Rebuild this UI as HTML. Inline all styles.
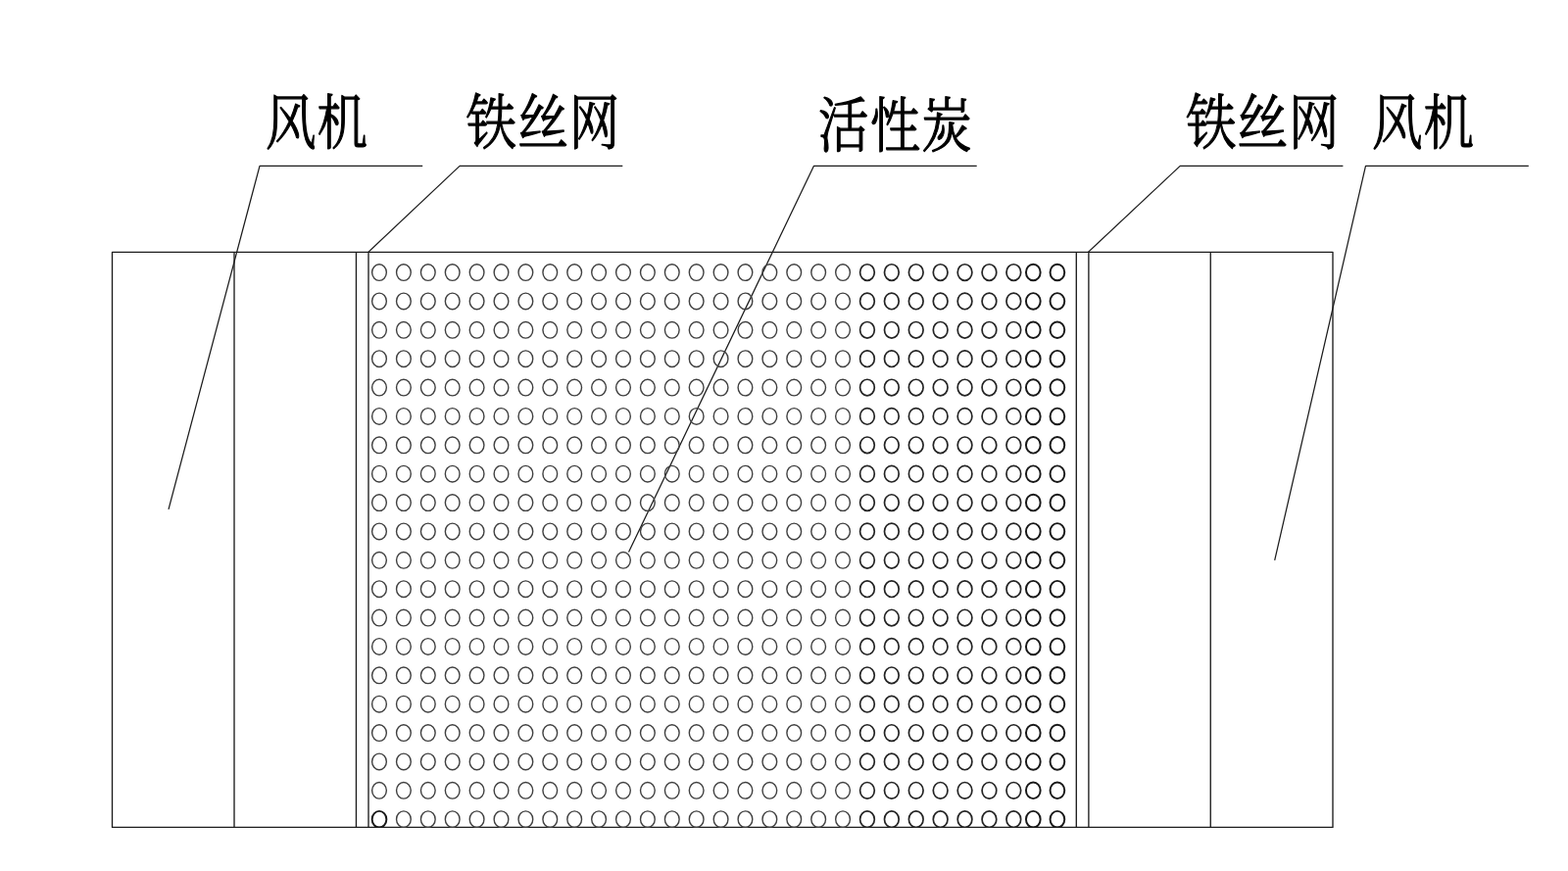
<!DOCTYPE html>
<html lang="zh-CN">
<head>
<meta charset="utf-8">
<title>风机 铁丝网 活性炭</title>
<style>
html,body{margin:0;padding:0;background:#fff;}
body{width:1600px;height:889px;overflow:hidden;}
svg{display:block;}
.ln{stroke:#1c1c1c;stroke-width:1.35;fill:none;stroke-linejoin:round;}
.ld{stroke-width:1.25;}
.c1{stroke:#404040;stroke-width:1.4;fill:none;}
.c2{stroke:#242424;stroke-width:1.7;fill:none;}
.c3{stroke:#181818;stroke-width:1.95;fill:none;}
.lb{font-family:"Liberation Serif","Noto Serif CJK SC",serif;fill:#000;stroke:#000;stroke-linejoin:round;}
</style>
</head>
<body>
<svg width="1600" height="889" viewBox="0 0 1600 889">
<rect x="0" y="0" width="1600" height="889" fill="#fff"/>
<g class="ln">
<rect x="114.5" y="257.35" width="1245.5" height="587.1"/>
<line x1="239.0" y1="257.35" x2="239.0" y2="844.45"/>
<line x1="363.45" y1="257.35" x2="363.45" y2="844.45"/>
<line x1="376.0" y1="257.35" x2="376.0" y2="844.45"/>
<line x1="1098.3" y1="257.35" x2="1098.3" y2="844.45"/>
<line x1="1110.9" y1="257.35" x2="1110.9" y2="844.45"/>
<line x1="1235.25" y1="257.35" x2="1235.25" y2="844.45"/>
<polyline class="ld" points="431.2,169.35 265.0,169.35 172.0,519.8"/>
<polyline class="ld" points="635.3,169.35 469.1,169.35 375.8,257.35"/>
<polyline class="ld" points="996.7,169.35 830.5,169.35 641.5,563.6"/>
<polyline class="ld" points="1370.4,169.35 1204.2,169.35 1110.4,257.35"/>
<polyline class="ld" points="1559.8,169.35 1393.5,169.35 1300.7,571.8"/>
</g>
<clipPath id="bed"><rect x="370" y="250" width="735" height="595.05"/></clipPath>
<g id="carbon" clip-path="url(#bed)">
<g transform="translate(0 278.05)"><g class="c1"><ellipse cx="387.0" rx="7.35" ry="8.3"/><ellipse cx="411.9" rx="7.35" ry="8.3"/><ellipse cx="436.79" rx="7.35" ry="8.3"/><ellipse cx="461.69" rx="7.35" ry="8.3"/><ellipse cx="486.59" rx="7.35" ry="8.3"/><ellipse cx="511.49" rx="7.35" ry="8.3"/><ellipse cx="536.38" rx="7.35" ry="8.3"/><ellipse cx="561.28" rx="7.35" ry="8.3"/><ellipse cx="586.18" rx="7.35" ry="8.3"/><ellipse cx="611.07" rx="7.35" ry="8.3"/><ellipse cx="635.97" rx="7.35" ry="8.3"/><ellipse cx="660.87" rx="7.35" ry="8.3"/><ellipse cx="685.76" rx="7.35" ry="8.3"/><ellipse cx="710.66" rx="7.35" ry="8.3"/><ellipse cx="735.56" rx="7.35" ry="8.3"/><ellipse cx="760.45" rx="7.35" ry="8.3"/><ellipse cx="785.35" rx="7.35" ry="8.3"/><ellipse cx="810.25" rx="7.35" ry="8.3"/><ellipse cx="835.15" rx="7.35" ry="8.3"/><ellipse cx="860.04" rx="7.35" ry="8.3"/></g><g class="c2"><ellipse cx="884.94" rx="7.35" ry="8.3"/><ellipse cx="909.84" rx="7.35" ry="8.3"/><ellipse cx="934.73" rx="7.35" ry="8.3"/><ellipse cx="959.63" rx="7.35" ry="8.3"/><ellipse cx="984.53" rx="7.35" ry="8.3"/><ellipse cx="1009.42" rx="7.35" ry="8.3"/><ellipse cx="1034.32" rx="7.35" ry="8.3"/></g><g class="c3"><ellipse cx="1054.3" rx="7.35" ry="8.3"/><ellipse cx="1078.9" rx="7.35" ry="8.3"/></g></g>
<g transform="translate(0 307.43)"><g class="c1"><ellipse cx="387.0" rx="7.35" ry="8.3"/><ellipse cx="411.9" rx="7.35" ry="8.3"/><ellipse cx="436.79" rx="7.35" ry="8.3"/><ellipse cx="461.69" rx="7.35" ry="8.3"/><ellipse cx="486.59" rx="7.35" ry="8.3"/><ellipse cx="511.49" rx="7.35" ry="8.3"/><ellipse cx="536.38" rx="7.35" ry="8.3"/><ellipse cx="561.28" rx="7.35" ry="8.3"/><ellipse cx="586.18" rx="7.35" ry="8.3"/><ellipse cx="611.07" rx="7.35" ry="8.3"/><ellipse cx="635.97" rx="7.35" ry="8.3"/><ellipse cx="660.87" rx="7.35" ry="8.3"/><ellipse cx="685.76" rx="7.35" ry="8.3"/><ellipse cx="710.66" rx="7.35" ry="8.3"/><ellipse cx="735.56" rx="7.35" ry="8.3"/><ellipse cx="760.45" rx="7.35" ry="8.3"/><ellipse cx="785.35" rx="7.35" ry="8.3"/><ellipse cx="810.25" rx="7.35" ry="8.3"/><ellipse cx="835.15" rx="7.35" ry="8.3"/><ellipse cx="860.04" rx="7.35" ry="8.3"/></g><g class="c2"><ellipse cx="884.94" rx="7.35" ry="8.3"/><ellipse cx="909.84" rx="7.35" ry="8.3"/><ellipse cx="934.73" rx="7.35" ry="8.3"/><ellipse cx="959.63" rx="7.35" ry="8.3"/><ellipse cx="984.53" rx="7.35" ry="8.3"/><ellipse cx="1009.42" rx="7.35" ry="8.3"/><ellipse cx="1034.32" rx="7.35" ry="8.3"/></g><g class="c3"><ellipse cx="1054.3" rx="7.35" ry="8.3"/><ellipse cx="1078.9" rx="7.35" ry="8.3"/></g></g>
<g transform="translate(0 336.8)"><g class="c1"><ellipse cx="387.0" rx="7.35" ry="8.3"/><ellipse cx="411.9" rx="7.35" ry="8.3"/><ellipse cx="436.79" rx="7.35" ry="8.3"/><ellipse cx="461.69" rx="7.35" ry="8.3"/><ellipse cx="486.59" rx="7.35" ry="8.3"/><ellipse cx="511.49" rx="7.35" ry="8.3"/><ellipse cx="536.38" rx="7.35" ry="8.3"/><ellipse cx="561.28" rx="7.35" ry="8.3"/><ellipse cx="586.18" rx="7.35" ry="8.3"/><ellipse cx="611.07" rx="7.35" ry="8.3"/><ellipse cx="635.97" rx="7.35" ry="8.3"/><ellipse cx="660.87" rx="7.35" ry="8.3"/><ellipse cx="685.76" rx="7.35" ry="8.3"/><ellipse cx="710.66" rx="7.35" ry="8.3"/><ellipse cx="735.56" rx="7.35" ry="8.3"/><ellipse cx="760.45" rx="7.35" ry="8.3"/><ellipse cx="785.35" rx="7.35" ry="8.3"/><ellipse cx="810.25" rx="7.35" ry="8.3"/><ellipse cx="835.15" rx="7.35" ry="8.3"/><ellipse cx="860.04" rx="7.35" ry="8.3"/></g><g class="c2"><ellipse cx="884.94" rx="7.35" ry="8.3"/><ellipse cx="909.84" rx="7.35" ry="8.3"/><ellipse cx="934.73" rx="7.35" ry="8.3"/><ellipse cx="959.63" rx="7.35" ry="8.3"/><ellipse cx="984.53" rx="7.35" ry="8.3"/><ellipse cx="1009.42" rx="7.35" ry="8.3"/><ellipse cx="1034.32" rx="7.35" ry="8.3"/></g><g class="c3"><ellipse cx="1054.3" rx="7.35" ry="8.3"/><ellipse cx="1078.9" rx="7.35" ry="8.3"/></g></g>
<g transform="translate(0 366.18)"><g class="c1"><ellipse cx="387.0" rx="7.35" ry="8.3"/><ellipse cx="411.9" rx="7.35" ry="8.3"/><ellipse cx="436.79" rx="7.35" ry="8.3"/><ellipse cx="461.69" rx="7.35" ry="8.3"/><ellipse cx="486.59" rx="7.35" ry="8.3"/><ellipse cx="511.49" rx="7.35" ry="8.3"/><ellipse cx="536.38" rx="7.35" ry="8.3"/><ellipse cx="561.28" rx="7.35" ry="8.3"/><ellipse cx="586.18" rx="7.35" ry="8.3"/><ellipse cx="611.07" rx="7.35" ry="8.3"/><ellipse cx="635.97" rx="7.35" ry="8.3"/><ellipse cx="660.87" rx="7.35" ry="8.3"/><ellipse cx="685.76" rx="7.35" ry="8.3"/><ellipse cx="710.66" rx="7.35" ry="8.3"/><ellipse cx="735.56" rx="7.35" ry="8.3"/><ellipse cx="760.45" rx="7.35" ry="8.3"/><ellipse cx="785.35" rx="7.35" ry="8.3"/><ellipse cx="810.25" rx="7.35" ry="8.3"/><ellipse cx="835.15" rx="7.35" ry="8.3"/><ellipse cx="860.04" rx="7.35" ry="8.3"/></g><g class="c2"><ellipse cx="884.94" rx="7.35" ry="8.3"/><ellipse cx="909.84" rx="7.35" ry="8.3"/><ellipse cx="934.73" rx="7.35" ry="8.3"/><ellipse cx="959.63" rx="7.35" ry="8.3"/><ellipse cx="984.53" rx="7.35" ry="8.3"/><ellipse cx="1009.42" rx="7.35" ry="8.3"/><ellipse cx="1034.32" rx="7.35" ry="8.3"/></g><g class="c3"><ellipse cx="1054.3" rx="7.35" ry="8.3"/><ellipse cx="1078.9" rx="7.35" ry="8.3"/></g></g>
<g transform="translate(0 395.55)"><g class="c1"><ellipse cx="387.0" rx="7.35" ry="8.3"/><ellipse cx="411.9" rx="7.35" ry="8.3"/><ellipse cx="436.79" rx="7.35" ry="8.3"/><ellipse cx="461.69" rx="7.35" ry="8.3"/><ellipse cx="486.59" rx="7.35" ry="8.3"/><ellipse cx="511.49" rx="7.35" ry="8.3"/><ellipse cx="536.38" rx="7.35" ry="8.3"/><ellipse cx="561.28" rx="7.35" ry="8.3"/><ellipse cx="586.18" rx="7.35" ry="8.3"/><ellipse cx="611.07" rx="7.35" ry="8.3"/><ellipse cx="635.97" rx="7.35" ry="8.3"/><ellipse cx="660.87" rx="7.35" ry="8.3"/><ellipse cx="685.76" rx="7.35" ry="8.3"/><ellipse cx="710.66" rx="7.35" ry="8.3"/><ellipse cx="735.56" rx="7.35" ry="8.3"/><ellipse cx="760.45" rx="7.35" ry="8.3"/><ellipse cx="785.35" rx="7.35" ry="8.3"/><ellipse cx="810.25" rx="7.35" ry="8.3"/><ellipse cx="835.15" rx="7.35" ry="8.3"/><ellipse cx="860.04" rx="7.35" ry="8.3"/></g><g class="c2"><ellipse cx="884.94" rx="7.35" ry="8.3"/><ellipse cx="909.84" rx="7.35" ry="8.3"/><ellipse cx="934.73" rx="7.35" ry="8.3"/><ellipse cx="959.63" rx="7.35" ry="8.3"/><ellipse cx="984.53" rx="7.35" ry="8.3"/><ellipse cx="1009.42" rx="7.35" ry="8.3"/><ellipse cx="1034.32" rx="7.35" ry="8.3"/></g><g class="c3"><ellipse cx="1054.3" rx="7.35" ry="8.3"/><ellipse cx="1078.9" rx="7.35" ry="8.3"/></g></g>
<g transform="translate(0 424.93)"><g class="c1"><ellipse cx="387.0" rx="7.35" ry="8.3"/><ellipse cx="411.9" rx="7.35" ry="8.3"/><ellipse cx="436.79" rx="7.35" ry="8.3"/><ellipse cx="461.69" rx="7.35" ry="8.3"/><ellipse cx="486.59" rx="7.35" ry="8.3"/><ellipse cx="511.49" rx="7.35" ry="8.3"/><ellipse cx="536.38" rx="7.35" ry="8.3"/><ellipse cx="561.28" rx="7.35" ry="8.3"/><ellipse cx="586.18" rx="7.35" ry="8.3"/><ellipse cx="611.07" rx="7.35" ry="8.3"/><ellipse cx="635.97" rx="7.35" ry="8.3"/><ellipse cx="660.87" rx="7.35" ry="8.3"/><ellipse cx="685.76" rx="7.35" ry="8.3"/><ellipse cx="710.66" rx="7.35" ry="8.3"/><ellipse cx="735.56" rx="7.35" ry="8.3"/><ellipse cx="760.45" rx="7.35" ry="8.3"/><ellipse cx="785.35" rx="7.35" ry="8.3"/><ellipse cx="810.25" rx="7.35" ry="8.3"/><ellipse cx="835.15" rx="7.35" ry="8.3"/><ellipse cx="860.04" rx="7.35" ry="8.3"/></g><g class="c2"><ellipse cx="884.94" rx="7.35" ry="8.3"/><ellipse cx="909.84" rx="7.35" ry="8.3"/><ellipse cx="934.73" rx="7.35" ry="8.3"/><ellipse cx="959.63" rx="7.35" ry="8.3"/><ellipse cx="984.53" rx="7.35" ry="8.3"/><ellipse cx="1009.42" rx="7.35" ry="8.3"/><ellipse cx="1034.32" rx="7.35" ry="8.3"/></g><g class="c3"><ellipse cx="1054.3" rx="7.35" ry="8.3"/><ellipse cx="1078.9" rx="7.35" ry="8.3"/></g></g>
<g transform="translate(0 454.31)"><g class="c1"><ellipse cx="387.0" rx="7.35" ry="8.3"/><ellipse cx="411.9" rx="7.35" ry="8.3"/><ellipse cx="436.79" rx="7.35" ry="8.3"/><ellipse cx="461.69" rx="7.35" ry="8.3"/><ellipse cx="486.59" rx="7.35" ry="8.3"/><ellipse cx="511.49" rx="7.35" ry="8.3"/><ellipse cx="536.38" rx="7.35" ry="8.3"/><ellipse cx="561.28" rx="7.35" ry="8.3"/><ellipse cx="586.18" rx="7.35" ry="8.3"/><ellipse cx="611.07" rx="7.35" ry="8.3"/><ellipse cx="635.97" rx="7.35" ry="8.3"/><ellipse cx="660.87" rx="7.35" ry="8.3"/><ellipse cx="685.76" rx="7.35" ry="8.3"/><ellipse cx="710.66" rx="7.35" ry="8.3"/><ellipse cx="735.56" rx="7.35" ry="8.3"/><ellipse cx="760.45" rx="7.35" ry="8.3"/><ellipse cx="785.35" rx="7.35" ry="8.3"/><ellipse cx="810.25" rx="7.35" ry="8.3"/><ellipse cx="835.15" rx="7.35" ry="8.3"/><ellipse cx="860.04" rx="7.35" ry="8.3"/></g><g class="c2"><ellipse cx="884.94" rx="7.35" ry="8.3"/><ellipse cx="909.84" rx="7.35" ry="8.3"/><ellipse cx="934.73" rx="7.35" ry="8.3"/><ellipse cx="959.63" rx="7.35" ry="8.3"/><ellipse cx="984.53" rx="7.35" ry="8.3"/><ellipse cx="1009.42" rx="7.35" ry="8.3"/><ellipse cx="1034.32" rx="7.35" ry="8.3"/></g><g class="c3"><ellipse cx="1054.3" rx="7.35" ry="8.3"/><ellipse cx="1078.9" rx="7.35" ry="8.3"/></g></g>
<g transform="translate(0 483.68)"><g class="c1"><ellipse cx="387.0" rx="7.35" ry="8.3"/><ellipse cx="411.9" rx="7.35" ry="8.3"/><ellipse cx="436.79" rx="7.35" ry="8.3"/><ellipse cx="461.69" rx="7.35" ry="8.3"/><ellipse cx="486.59" rx="7.35" ry="8.3"/><ellipse cx="511.49" rx="7.35" ry="8.3"/><ellipse cx="536.38" rx="7.35" ry="8.3"/><ellipse cx="561.28" rx="7.35" ry="8.3"/><ellipse cx="586.18" rx="7.35" ry="8.3"/><ellipse cx="611.07" rx="7.35" ry="8.3"/><ellipse cx="635.97" rx="7.35" ry="8.3"/><ellipse cx="660.87" rx="7.35" ry="8.3"/><ellipse cx="685.76" rx="7.35" ry="8.3"/><ellipse cx="710.66" rx="7.35" ry="8.3"/><ellipse cx="735.56" rx="7.35" ry="8.3"/><ellipse cx="760.45" rx="7.35" ry="8.3"/><ellipse cx="785.35" rx="7.35" ry="8.3"/><ellipse cx="810.25" rx="7.35" ry="8.3"/><ellipse cx="835.15" rx="7.35" ry="8.3"/><ellipse cx="860.04" rx="7.35" ry="8.3"/></g><g class="c2"><ellipse cx="884.94" rx="7.35" ry="8.3"/><ellipse cx="909.84" rx="7.35" ry="8.3"/><ellipse cx="934.73" rx="7.35" ry="8.3"/><ellipse cx="959.63" rx="7.35" ry="8.3"/><ellipse cx="984.53" rx="7.35" ry="8.3"/><ellipse cx="1009.42" rx="7.35" ry="8.3"/><ellipse cx="1034.32" rx="7.35" ry="8.3"/></g><g class="c3"><ellipse cx="1054.3" rx="7.35" ry="8.3"/><ellipse cx="1078.9" rx="7.35" ry="8.3"/></g></g>
<g transform="translate(0 513.06)"><g class="c1"><ellipse cx="387.0" rx="7.35" ry="8.3"/><ellipse cx="411.9" rx="7.35" ry="8.3"/><ellipse cx="436.79" rx="7.35" ry="8.3"/><ellipse cx="461.69" rx="7.35" ry="8.3"/><ellipse cx="486.59" rx="7.35" ry="8.3"/><ellipse cx="511.49" rx="7.35" ry="8.3"/><ellipse cx="536.38" rx="7.35" ry="8.3"/><ellipse cx="561.28" rx="7.35" ry="8.3"/><ellipse cx="586.18" rx="7.35" ry="8.3"/><ellipse cx="611.07" rx="7.35" ry="8.3"/><ellipse cx="635.97" rx="7.35" ry="8.3"/><ellipse cx="660.87" rx="7.35" ry="8.3"/><ellipse cx="685.76" rx="7.35" ry="8.3"/><ellipse cx="710.66" rx="7.35" ry="8.3"/><ellipse cx="735.56" rx="7.35" ry="8.3"/><ellipse cx="760.45" rx="7.35" ry="8.3"/><ellipse cx="785.35" rx="7.35" ry="8.3"/><ellipse cx="810.25" rx="7.35" ry="8.3"/><ellipse cx="835.15" rx="7.35" ry="8.3"/><ellipse cx="860.04" rx="7.35" ry="8.3"/></g><g class="c2"><ellipse cx="884.94" rx="7.35" ry="8.3"/><ellipse cx="909.84" rx="7.35" ry="8.3"/><ellipse cx="934.73" rx="7.35" ry="8.3"/><ellipse cx="959.63" rx="7.35" ry="8.3"/><ellipse cx="984.53" rx="7.35" ry="8.3"/><ellipse cx="1009.42" rx="7.35" ry="8.3"/><ellipse cx="1034.32" rx="7.35" ry="8.3"/></g><g class="c3"><ellipse cx="1054.3" rx="7.35" ry="8.3"/><ellipse cx="1078.9" rx="7.35" ry="8.3"/></g></g>
<g transform="translate(0 542.43)"><g class="c1"><ellipse cx="387.0" rx="7.35" ry="8.3"/><ellipse cx="411.9" rx="7.35" ry="8.3"/><ellipse cx="436.79" rx="7.35" ry="8.3"/><ellipse cx="461.69" rx="7.35" ry="8.3"/><ellipse cx="486.59" rx="7.35" ry="8.3"/><ellipse cx="511.49" rx="7.35" ry="8.3"/><ellipse cx="536.38" rx="7.35" ry="8.3"/><ellipse cx="561.28" rx="7.35" ry="8.3"/><ellipse cx="586.18" rx="7.35" ry="8.3"/><ellipse cx="611.07" rx="7.35" ry="8.3"/><ellipse cx="635.97" rx="7.35" ry="8.3"/><ellipse cx="660.87" rx="7.35" ry="8.3"/><ellipse cx="685.76" rx="7.35" ry="8.3"/><ellipse cx="710.66" rx="7.35" ry="8.3"/><ellipse cx="735.56" rx="7.35" ry="8.3"/><ellipse cx="760.45" rx="7.35" ry="8.3"/><ellipse cx="785.35" rx="7.35" ry="8.3"/><ellipse cx="810.25" rx="7.35" ry="8.3"/><ellipse cx="835.15" rx="7.35" ry="8.3"/><ellipse cx="860.04" rx="7.35" ry="8.3"/></g><g class="c2"><ellipse cx="884.94" rx="7.35" ry="8.3"/><ellipse cx="909.84" rx="7.35" ry="8.3"/><ellipse cx="934.73" rx="7.35" ry="8.3"/><ellipse cx="959.63" rx="7.35" ry="8.3"/><ellipse cx="984.53" rx="7.35" ry="8.3"/><ellipse cx="1009.42" rx="7.35" ry="8.3"/><ellipse cx="1034.32" rx="7.35" ry="8.3"/></g><g class="c3"><ellipse cx="1054.3" rx="7.35" ry="8.3"/><ellipse cx="1078.9" rx="7.35" ry="8.3"/></g></g>
<g transform="translate(0 571.81)"><g class="c1"><ellipse cx="387.0" rx="7.35" ry="8.3"/><ellipse cx="411.9" rx="7.35" ry="8.3"/><ellipse cx="436.79" rx="7.35" ry="8.3"/><ellipse cx="461.69" rx="7.35" ry="8.3"/><ellipse cx="486.59" rx="7.35" ry="8.3"/><ellipse cx="511.49" rx="7.35" ry="8.3"/><ellipse cx="536.38" rx="7.35" ry="8.3"/><ellipse cx="561.28" rx="7.35" ry="8.3"/><ellipse cx="586.18" rx="7.35" ry="8.3"/><ellipse cx="611.07" rx="7.35" ry="8.3"/><ellipse cx="635.97" rx="7.35" ry="8.3"/><ellipse cx="660.87" rx="7.35" ry="8.3"/><ellipse cx="685.76" rx="7.35" ry="8.3"/><ellipse cx="710.66" rx="7.35" ry="8.3"/><ellipse cx="735.56" rx="7.35" ry="8.3"/><ellipse cx="760.45" rx="7.35" ry="8.3"/><ellipse cx="785.35" rx="7.35" ry="8.3"/><ellipse cx="810.25" rx="7.35" ry="8.3"/><ellipse cx="835.15" rx="7.35" ry="8.3"/><ellipse cx="860.04" rx="7.35" ry="8.3"/></g><g class="c2"><ellipse cx="884.94" rx="7.35" ry="8.3"/><ellipse cx="909.84" rx="7.35" ry="8.3"/><ellipse cx="934.73" rx="7.35" ry="8.3"/><ellipse cx="959.63" rx="7.35" ry="8.3"/><ellipse cx="984.53" rx="7.35" ry="8.3"/><ellipse cx="1009.42" rx="7.35" ry="8.3"/><ellipse cx="1034.32" rx="7.35" ry="8.3"/></g><g class="c3"><ellipse cx="1054.3" rx="7.35" ry="8.3"/><ellipse cx="1078.9" rx="7.35" ry="8.3"/></g></g>
<g transform="translate(0 601.19)"><g class="c1"><ellipse cx="387.0" rx="7.35" ry="8.3"/><ellipse cx="411.9" rx="7.35" ry="8.3"/><ellipse cx="436.79" rx="7.35" ry="8.3"/><ellipse cx="461.69" rx="7.35" ry="8.3"/><ellipse cx="486.59" rx="7.35" ry="8.3"/><ellipse cx="511.49" rx="7.35" ry="8.3"/><ellipse cx="536.38" rx="7.35" ry="8.3"/><ellipse cx="561.28" rx="7.35" ry="8.3"/><ellipse cx="586.18" rx="7.35" ry="8.3"/><ellipse cx="611.07" rx="7.35" ry="8.3"/><ellipse cx="635.97" rx="7.35" ry="8.3"/><ellipse cx="660.87" rx="7.35" ry="8.3"/><ellipse cx="685.76" rx="7.35" ry="8.3"/><ellipse cx="710.66" rx="7.35" ry="8.3"/><ellipse cx="735.56" rx="7.35" ry="8.3"/><ellipse cx="760.45" rx="7.35" ry="8.3"/><ellipse cx="785.35" rx="7.35" ry="8.3"/><ellipse cx="810.25" rx="7.35" ry="8.3"/><ellipse cx="835.15" rx="7.35" ry="8.3"/><ellipse cx="860.04" rx="7.35" ry="8.3"/></g><g class="c2"><ellipse cx="884.94" rx="7.35" ry="8.3"/><ellipse cx="909.84" rx="7.35" ry="8.3"/><ellipse cx="934.73" rx="7.35" ry="8.3"/><ellipse cx="959.63" rx="7.35" ry="8.3"/><ellipse cx="984.53" rx="7.35" ry="8.3"/><ellipse cx="1009.42" rx="7.35" ry="8.3"/><ellipse cx="1034.32" rx="7.35" ry="8.3"/></g><g class="c3"><ellipse cx="1054.3" rx="7.35" ry="8.3"/><ellipse cx="1078.9" rx="7.35" ry="8.3"/></g></g>
<g transform="translate(0 630.56)"><g class="c1"><ellipse cx="387.0" rx="7.35" ry="8.3"/><ellipse cx="411.9" rx="7.35" ry="8.3"/><ellipse cx="436.79" rx="7.35" ry="8.3"/><ellipse cx="461.69" rx="7.35" ry="8.3"/><ellipse cx="486.59" rx="7.35" ry="8.3"/><ellipse cx="511.49" rx="7.35" ry="8.3"/><ellipse cx="536.38" rx="7.35" ry="8.3"/><ellipse cx="561.28" rx="7.35" ry="8.3"/><ellipse cx="586.18" rx="7.35" ry="8.3"/><ellipse cx="611.07" rx="7.35" ry="8.3"/><ellipse cx="635.97" rx="7.35" ry="8.3"/><ellipse cx="660.87" rx="7.35" ry="8.3"/><ellipse cx="685.76" rx="7.35" ry="8.3"/><ellipse cx="710.66" rx="7.35" ry="8.3"/><ellipse cx="735.56" rx="7.35" ry="8.3"/><ellipse cx="760.45" rx="7.35" ry="8.3"/><ellipse cx="785.35" rx="7.35" ry="8.3"/><ellipse cx="810.25" rx="7.35" ry="8.3"/><ellipse cx="835.15" rx="7.35" ry="8.3"/><ellipse cx="860.04" rx="7.35" ry="8.3"/></g><g class="c2"><ellipse cx="884.94" rx="7.35" ry="8.3"/><ellipse cx="909.84" rx="7.35" ry="8.3"/><ellipse cx="934.73" rx="7.35" ry="8.3"/><ellipse cx="959.63" rx="7.35" ry="8.3"/><ellipse cx="984.53" rx="7.35" ry="8.3"/><ellipse cx="1009.42" rx="7.35" ry="8.3"/><ellipse cx="1034.32" rx="7.35" ry="8.3"/></g><g class="c3"><ellipse cx="1054.3" rx="7.35" ry="8.3"/><ellipse cx="1078.9" rx="7.35" ry="8.3"/></g></g>
<g transform="translate(0 659.94)"><g class="c1"><ellipse cx="387.0" rx="7.35" ry="8.3"/><ellipse cx="411.9" rx="7.35" ry="8.3"/><ellipse cx="436.79" rx="7.35" ry="8.3"/><ellipse cx="461.69" rx="7.35" ry="8.3"/><ellipse cx="486.59" rx="7.35" ry="8.3"/><ellipse cx="511.49" rx="7.35" ry="8.3"/><ellipse cx="536.38" rx="7.35" ry="8.3"/><ellipse cx="561.28" rx="7.35" ry="8.3"/><ellipse cx="586.18" rx="7.35" ry="8.3"/><ellipse cx="611.07" rx="7.35" ry="8.3"/><ellipse cx="635.97" rx="7.35" ry="8.3"/><ellipse cx="660.87" rx="7.35" ry="8.3"/><ellipse cx="685.76" rx="7.35" ry="8.3"/><ellipse cx="710.66" rx="7.35" ry="8.3"/><ellipse cx="735.56" rx="7.35" ry="8.3"/><ellipse cx="760.45" rx="7.35" ry="8.3"/><ellipse cx="785.35" rx="7.35" ry="8.3"/><ellipse cx="810.25" rx="7.35" ry="8.3"/><ellipse cx="835.15" rx="7.35" ry="8.3"/><ellipse cx="860.04" rx="7.35" ry="8.3"/></g><g class="c2"><ellipse cx="884.94" rx="7.35" ry="8.3"/><ellipse cx="909.84" rx="7.35" ry="8.3"/><ellipse cx="934.73" rx="7.35" ry="8.3"/><ellipse cx="959.63" rx="7.35" ry="8.3"/><ellipse cx="984.53" rx="7.35" ry="8.3"/><ellipse cx="1009.42" rx="7.35" ry="8.3"/><ellipse cx="1034.32" rx="7.35" ry="8.3"/></g><g class="c3"><ellipse cx="1054.3" rx="7.35" ry="8.3"/><ellipse cx="1078.9" rx="7.35" ry="8.3"/></g></g>
<g transform="translate(0 689.31)"><g class="c1"><ellipse cx="387.0" rx="7.35" ry="8.3"/><ellipse cx="411.9" rx="7.35" ry="8.3"/><ellipse cx="436.79" rx="7.35" ry="8.3"/><ellipse cx="461.69" rx="7.35" ry="8.3"/><ellipse cx="486.59" rx="7.35" ry="8.3"/><ellipse cx="511.49" rx="7.35" ry="8.3"/><ellipse cx="536.38" rx="7.35" ry="8.3"/><ellipse cx="561.28" rx="7.35" ry="8.3"/><ellipse cx="586.18" rx="7.35" ry="8.3"/><ellipse cx="611.07" rx="7.35" ry="8.3"/><ellipse cx="635.97" rx="7.35" ry="8.3"/><ellipse cx="660.87" rx="7.35" ry="8.3"/><ellipse cx="685.76" rx="7.35" ry="8.3"/><ellipse cx="710.66" rx="7.35" ry="8.3"/><ellipse cx="735.56" rx="7.35" ry="8.3"/><ellipse cx="760.45" rx="7.35" ry="8.3"/><ellipse cx="785.35" rx="7.35" ry="8.3"/><ellipse cx="810.25" rx="7.35" ry="8.3"/><ellipse cx="835.15" rx="7.35" ry="8.3"/><ellipse cx="860.04" rx="7.35" ry="8.3"/></g><g class="c2"><ellipse cx="884.94" rx="7.35" ry="8.3"/><ellipse cx="909.84" rx="7.35" ry="8.3"/><ellipse cx="934.73" rx="7.35" ry="8.3"/><ellipse cx="959.63" rx="7.35" ry="8.3"/><ellipse cx="984.53" rx="7.35" ry="8.3"/><ellipse cx="1009.42" rx="7.35" ry="8.3"/><ellipse cx="1034.32" rx="7.35" ry="8.3"/></g><g class="c3"><ellipse cx="1054.3" rx="7.35" ry="8.3"/><ellipse cx="1078.9" rx="7.35" ry="8.3"/></g></g>
<g transform="translate(0 718.69)"><g class="c1"><ellipse cx="387.0" rx="7.35" ry="8.3"/><ellipse cx="411.9" rx="7.35" ry="8.3"/><ellipse cx="436.79" rx="7.35" ry="8.3"/><ellipse cx="461.69" rx="7.35" ry="8.3"/><ellipse cx="486.59" rx="7.35" ry="8.3"/><ellipse cx="511.49" rx="7.35" ry="8.3"/><ellipse cx="536.38" rx="7.35" ry="8.3"/><ellipse cx="561.28" rx="7.35" ry="8.3"/><ellipse cx="586.18" rx="7.35" ry="8.3"/><ellipse cx="611.07" rx="7.35" ry="8.3"/><ellipse cx="635.97" rx="7.35" ry="8.3"/><ellipse cx="660.87" rx="7.35" ry="8.3"/><ellipse cx="685.76" rx="7.35" ry="8.3"/><ellipse cx="710.66" rx="7.35" ry="8.3"/><ellipse cx="735.56" rx="7.35" ry="8.3"/><ellipse cx="760.45" rx="7.35" ry="8.3"/><ellipse cx="785.35" rx="7.35" ry="8.3"/><ellipse cx="810.25" rx="7.35" ry="8.3"/><ellipse cx="835.15" rx="7.35" ry="8.3"/><ellipse cx="860.04" rx="7.35" ry="8.3"/></g><g class="c2"><ellipse cx="884.94" rx="7.35" ry="8.3"/><ellipse cx="909.84" rx="7.35" ry="8.3"/><ellipse cx="934.73" rx="7.35" ry="8.3"/><ellipse cx="959.63" rx="7.35" ry="8.3"/><ellipse cx="984.53" rx="7.35" ry="8.3"/><ellipse cx="1009.42" rx="7.35" ry="8.3"/><ellipse cx="1034.32" rx="7.35" ry="8.3"/></g><g class="c3"><ellipse cx="1054.3" rx="7.35" ry="8.3"/><ellipse cx="1078.9" rx="7.35" ry="8.3"/></g></g>
<g transform="translate(0 748.07)"><g class="c1"><ellipse cx="387.0" rx="7.35" ry="8.3"/><ellipse cx="411.9" rx="7.35" ry="8.3"/><ellipse cx="436.79" rx="7.35" ry="8.3"/><ellipse cx="461.69" rx="7.35" ry="8.3"/><ellipse cx="486.59" rx="7.35" ry="8.3"/><ellipse cx="511.49" rx="7.35" ry="8.3"/><ellipse cx="536.38" rx="7.35" ry="8.3"/><ellipse cx="561.28" rx="7.35" ry="8.3"/><ellipse cx="586.18" rx="7.35" ry="8.3"/><ellipse cx="611.07" rx="7.35" ry="8.3"/><ellipse cx="635.97" rx="7.35" ry="8.3"/><ellipse cx="660.87" rx="7.35" ry="8.3"/><ellipse cx="685.76" rx="7.35" ry="8.3"/><ellipse cx="710.66" rx="7.35" ry="8.3"/><ellipse cx="735.56" rx="7.35" ry="8.3"/><ellipse cx="760.45" rx="7.35" ry="8.3"/><ellipse cx="785.35" rx="7.35" ry="8.3"/><ellipse cx="810.25" rx="7.35" ry="8.3"/><ellipse cx="835.15" rx="7.35" ry="8.3"/><ellipse cx="860.04" rx="7.35" ry="8.3"/></g><g class="c2"><ellipse cx="884.94" rx="7.35" ry="8.3"/><ellipse cx="909.84" rx="7.35" ry="8.3"/><ellipse cx="934.73" rx="7.35" ry="8.3"/><ellipse cx="959.63" rx="7.35" ry="8.3"/><ellipse cx="984.53" rx="7.35" ry="8.3"/><ellipse cx="1009.42" rx="7.35" ry="8.3"/><ellipse cx="1034.32" rx="7.35" ry="8.3"/></g><g class="c3"><ellipse cx="1054.3" rx="7.35" ry="8.3"/><ellipse cx="1078.9" rx="7.35" ry="8.3"/></g></g>
<g transform="translate(0 777.44)"><g class="c1"><ellipse cx="387.0" rx="7.35" ry="8.3"/><ellipse cx="411.9" rx="7.35" ry="8.3"/><ellipse cx="436.79" rx="7.35" ry="8.3"/><ellipse cx="461.69" rx="7.35" ry="8.3"/><ellipse cx="486.59" rx="7.35" ry="8.3"/><ellipse cx="511.49" rx="7.35" ry="8.3"/><ellipse cx="536.38" rx="7.35" ry="8.3"/><ellipse cx="561.28" rx="7.35" ry="8.3"/><ellipse cx="586.18" rx="7.35" ry="8.3"/><ellipse cx="611.07" rx="7.35" ry="8.3"/><ellipse cx="635.97" rx="7.35" ry="8.3"/><ellipse cx="660.87" rx="7.35" ry="8.3"/><ellipse cx="685.76" rx="7.35" ry="8.3"/><ellipse cx="710.66" rx="7.35" ry="8.3"/><ellipse cx="735.56" rx="7.35" ry="8.3"/><ellipse cx="760.45" rx="7.35" ry="8.3"/><ellipse cx="785.35" rx="7.35" ry="8.3"/><ellipse cx="810.25" rx="7.35" ry="8.3"/><ellipse cx="835.15" rx="7.35" ry="8.3"/><ellipse cx="860.04" rx="7.35" ry="8.3"/></g><g class="c2"><ellipse cx="884.94" rx="7.35" ry="8.3"/><ellipse cx="909.84" rx="7.35" ry="8.3"/><ellipse cx="934.73" rx="7.35" ry="8.3"/><ellipse cx="959.63" rx="7.35" ry="8.3"/><ellipse cx="984.53" rx="7.35" ry="8.3"/><ellipse cx="1009.42" rx="7.35" ry="8.3"/><ellipse cx="1034.32" rx="7.35" ry="8.3"/></g><g class="c3"><ellipse cx="1054.3" rx="7.35" ry="8.3"/><ellipse cx="1078.9" rx="7.35" ry="8.3"/></g></g>
<g transform="translate(0 806.82)"><g class="c1"><ellipse cx="387.0" rx="7.35" ry="8.3"/><ellipse cx="411.9" rx="7.35" ry="8.3"/><ellipse cx="436.79" rx="7.35" ry="8.3"/><ellipse cx="461.69" rx="7.35" ry="8.3"/><ellipse cx="486.59" rx="7.35" ry="8.3"/><ellipse cx="511.49" rx="7.35" ry="8.3"/><ellipse cx="536.38" rx="7.35" ry="8.3"/><ellipse cx="561.28" rx="7.35" ry="8.3"/><ellipse cx="586.18" rx="7.35" ry="8.3"/><ellipse cx="611.07" rx="7.35" ry="8.3"/><ellipse cx="635.97" rx="7.35" ry="8.3"/><ellipse cx="660.87" rx="7.35" ry="8.3"/><ellipse cx="685.76" rx="7.35" ry="8.3"/><ellipse cx="710.66" rx="7.35" ry="8.3"/><ellipse cx="735.56" rx="7.35" ry="8.3"/><ellipse cx="760.45" rx="7.35" ry="8.3"/><ellipse cx="785.35" rx="7.35" ry="8.3"/><ellipse cx="810.25" rx="7.35" ry="8.3"/><ellipse cx="835.15" rx="7.35" ry="8.3"/><ellipse cx="860.04" rx="7.35" ry="8.3"/></g><g class="c2"><ellipse cx="884.94" rx="7.35" ry="8.3"/><ellipse cx="909.84" rx="7.35" ry="8.3"/><ellipse cx="934.73" rx="7.35" ry="8.3"/><ellipse cx="959.63" rx="7.35" ry="8.3"/><ellipse cx="984.53" rx="7.35" ry="8.3"/><ellipse cx="1009.42" rx="7.35" ry="8.3"/><ellipse cx="1034.32" rx="7.35" ry="8.3"/></g><g class="c3"><ellipse cx="1054.3" rx="7.35" ry="8.3"/><ellipse cx="1078.9" rx="7.35" ry="8.3"/></g></g>
<g transform="translate(0 836.19)"><g class="c1"><ellipse cx="411.9" rx="7.35" ry="8.3"/><ellipse cx="436.79" rx="7.35" ry="8.3"/><ellipse cx="461.69" rx="7.35" ry="8.3"/><ellipse cx="486.59" rx="7.35" ry="8.3"/><ellipse cx="511.49" rx="7.35" ry="8.3"/><ellipse cx="536.38" rx="7.35" ry="8.3"/><ellipse cx="561.28" rx="7.35" ry="8.3"/><ellipse cx="586.18" rx="7.35" ry="8.3"/><ellipse cx="611.07" rx="7.35" ry="8.3"/><ellipse cx="635.97" rx="7.35" ry="8.3"/><ellipse cx="660.87" rx="7.35" ry="8.3"/><ellipse cx="685.76" rx="7.35" ry="8.3"/><ellipse cx="710.66" rx="7.35" ry="8.3"/><ellipse cx="735.56" rx="7.35" ry="8.3"/><ellipse cx="760.45" rx="7.35" ry="8.3"/><ellipse cx="785.35" rx="7.35" ry="8.3"/><ellipse cx="810.25" rx="7.35" ry="8.3"/><ellipse cx="835.15" rx="7.35" ry="8.3"/><ellipse cx="860.04" rx="7.35" ry="8.3"/></g><g class="c2"><ellipse cx="884.94" rx="7.35" ry="8.3"/><ellipse cx="909.84" rx="7.35" ry="8.3"/><ellipse cx="934.73" rx="7.35" ry="8.3"/><ellipse cx="959.63" rx="7.35" ry="8.3"/><ellipse cx="984.53" rx="7.35" ry="8.3"/><ellipse cx="1009.42" rx="7.35" ry="8.3"/><ellipse cx="1034.32" rx="7.35" ry="8.3"/></g><g class="c3"><ellipse cx="387.0" rx="7.35" ry="8.3"/><ellipse cx="1054.3" rx="7.35" ry="8.3"/><ellipse cx="1078.9" rx="7.35" ry="8.3"/></g></g>
</g>
<text class="lb" transform="translate(271.0 146.8) scale(0.886 1.055)" font-size="58.2" font-weight="300" stroke-width="1.2" letter-spacing="1.1">风机</text>
<text class="lb" transform="translate(475.6 146.5) scale(0.886 1.055)" font-size="58.2" font-weight="300" stroke-width="1.2" letter-spacing="1.1">铁丝网</text>
<text class="lb" transform="translate(835.1 150.3) scale(0.886 1.055)" font-size="58.2" font-weight="300" stroke-width="1.2" letter-spacing="1.1">活性炭</text>
<text class="lb" transform="translate(1210.0 146.5) scale(0.886 1.055)" font-size="58.2" font-weight="300" stroke-width="1.2" letter-spacing="1.1">铁丝网</text>
<text class="lb" transform="translate(1400.0 146.8) scale(0.886 1.055)" font-size="58.2" font-weight="300" stroke-width="1.2" letter-spacing="1.1">风机</text>
</svg>
</body>
</html>
